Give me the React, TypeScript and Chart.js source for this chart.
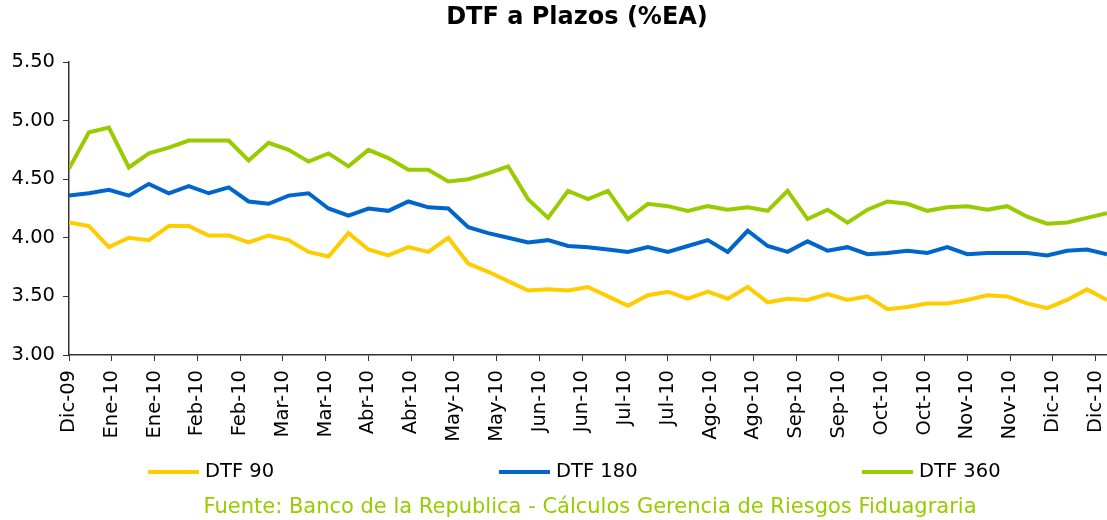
import React, { useEffect, useRef } from "react";
import { Chart, registerables } from "chart.js";

Chart.register(...registerables);

// Weekly observation dates
const dates: string[] = [
  "2009-12-25", "2010-01-01", "2010-01-08", "2010-01-15", "2010-01-22", "2010-01-29",
  "2010-02-05", "2010-02-12", "2010-02-19", "2010-02-26", "2010-03-05", "2010-03-12",
  "2010-03-19", "2010-03-26", "2010-04-02", "2010-04-09", "2010-04-16", "2010-04-23",
  "2010-04-30", "2010-05-07", "2010-05-14", "2010-05-21", "2010-05-28", "2010-06-04",
  "2010-06-11", "2010-06-18", "2010-06-25", "2010-07-02", "2010-07-09", "2010-07-16",
  "2010-07-23", "2010-07-30", "2010-08-06", "2010-08-13", "2010-08-20", "2010-08-27",
  "2010-09-03", "2010-09-10", "2010-09-17", "2010-09-24", "2010-10-01", "2010-10-08",
  "2010-10-15", "2010-10-22", "2010-10-29", "2010-11-05", "2010-11-12", "2010-11-19",
  "2010-11-26", "2010-12-03", "2010-12-10", "2010-12-17", "2010-12-24",
];

const dtf90: number[] = [
  4.13, 4.10, 3.92, 4.00, 3.98, 4.10, 4.10, 4.02, 4.02, 3.96, 4.02, 3.98,
  3.88, 3.84, 4.04, 3.90, 3.85, 3.92, 3.88, 4.00, 3.78, 3.71, 3.63, 3.55,
  3.56, 3.55, 3.58, 3.50, 3.42, 3.51, 3.54, 3.48, 3.54, 3.48, 3.58, 3.45,
  3.48, 3.47, 3.52, 3.47, 3.50, 3.39, 3.41, 3.44, 3.44, 3.47, 3.51, 3.50,
  3.44, 3.40, 3.47, 3.56, 3.47,
];

const dtf180: number[] = [
  4.36, 4.38, 4.41, 4.36, 4.46, 4.38, 4.44, 4.38, 4.43, 4.31, 4.29, 4.36,
  4.38, 4.25, 4.19, 4.25, 4.23, 4.31, 4.26, 4.25, 4.09, 4.04, 4.00, 3.96,
  3.98, 3.93, 3.92, 3.90, 3.88, 3.92, 3.88, 3.93, 3.98, 3.88, 4.06, 3.93,
  3.88, 3.97, 3.89, 3.92, 3.86, 3.87, 3.89, 3.87, 3.92, 3.86, 3.87, 3.87,
  3.87, 3.85, 3.89, 3.90, 3.86,
];

const dtf360: number[] = [
  4.59, 4.90, 4.94, 4.60, 4.72, 4.77, 4.83, 4.83, 4.83, 4.66, 4.81, 4.75,
  4.65, 4.72, 4.61, 4.75, 4.68, 4.58, 4.58, 4.48, 4.50, 4.55, 4.61, 4.33,
  4.17, 4.40, 4.33, 4.40, 4.16, 4.29, 4.27, 4.23, 4.27, 4.24, 4.26, 4.23,
  4.40, 4.16, 4.24, 4.13, 4.24, 4.31, 4.29, 4.23, 4.26, 4.27, 4.24, 4.27,
  4.18, 4.12, 4.13, 4.17, 4.21,
];

const seriesNames: string[] = ["DTF 90", "DTF 180", "DTF 360"];
const seriesColors: string[] = ["#FFCC00", "#0066CC", "#99CC00"];
const monthNames: string[] = ["Ene", "Feb", "Mar", "Abr", "May", "Jun", "Jul", "Ago", "Sep", "Oct", "Nov", "Dic"];
const titleText = "DTF a Plazos (%EA)";
const sourceText = "Fuente: Banco de la Republica - Cálculos Gerencia de Riesgos Fiduagraria";

const FONT = "'DejaVu Sans', Verdana, sans-serif";
const DAY = 86400000;
const t0 = Date.parse(dates[0]);
const dayOffset = (s: string) => Math.round((Date.parse(s) - t0) / DAY);

export default function App() {
  const canvasRef = useRef<HTMLCanvasElement | null>(null);

  useEffect(() => {
    document.body.style.margin = "0";
    document.body.style.overflow = "hidden";
    const canvas = canvasRef.current;
    if (!canvas) return;

    const toPoints = (vals: number[]) => vals.map((v, i) => ({ x: dayOffset(dates[i]), y: v }));
    const seriesValues = [dtf90, dtf180, dtf360];

    const overlay = {
      id: "overlayText",
      afterDraw(chart: any) {
        const ctx = chart.ctx as CanvasRenderingContext2D;
        ctx.save();
        // title
        ctx.fillStyle = "#000";
        ctx.font = `bold 24px ${FONT}`;
        ctx.textAlign = "center";
        ctx.textBaseline = "middle";
        ctx.fillText(titleText, 577, 18);
        // legend
        const legendX = [148, 499, 862];
        const legendY = 472;
        chart.data.datasets.forEach((ds: any, i: number) => {
          ctx.strokeStyle = ds.borderColor;
          ctx.lineWidth = 4;
          ctx.beginPath();
          ctx.moveTo(legendX[i], legendY);
          ctx.lineTo(legendX[i] + 51, legendY);
          ctx.stroke();
          ctx.fillStyle = "#000";
          ctx.font = `19.5px ${FONT}`;
          ctx.textAlign = "left";
          ctx.textBaseline = "middle";
          ctx.fillText(ds.label, legendX[i] + 57, legendY);
        });
        // source
        ctx.fillStyle = "#99CC00";
        ctx.font = `21px ${FONT}`;
        ctx.textAlign = "center";
        ctx.textBaseline = "middle";
        ctx.fillText(sourceText, 590, 508);
        ctx.restore();
      },
    };

    const chart = new Chart(canvas, {
      type: "line",
      data: {
        datasets: seriesNames.map((name, i) => ({
          label: name,
          data: toPoints(seriesValues[i]),
          borderColor: seriesColors[i],
          backgroundColor: seriesColors[i],
          borderWidth: 4,
          pointRadius: 0,
          tension: 0,
          fill: false,
        })),
      },
      options: {
        animation: false,
        responsive: false,
        devicePixelRatio: 1,
        layout: { padding: { top: 62, left: 0, right: 0, bottom: 0 } },
        plugins: {
          legend: { display: false },
          title: { display: false },
          tooltip: { enabled: false },
        },
        scales: {
          x: {
            type: "linear",
            min: 0,
            max: dayOffset(dates[dates.length - 1]),
            grid: {
              display: true,
              drawOnChartArea: false,
              drawTicks: true,
              tickLength: 6,
              color: "#333",
              lineWidth: 1,
            },
            border: { display: true, color: "#333", width: 1.5 },
            ticks: {
              stepSize: 15,
              includeBounds: false,
              autoSkip: false,
              maxRotation: 90,
              minRotation: 90,
              padding: 9,
              color: "#000",
              font: { family: FONT, size: 19.5 },
              callback: (value: any) => {
                const d = new Date(t0 + Number(value) * DAY);
                return `${monthNames[d.getUTCMonth()]}-${String(d.getUTCFullYear()).slice(2)}`;
              },
            },
            afterFit: (scale: any) => {
              scale.height = 165;
              scale.paddingLeft = 0;
              scale.paddingRight = 0;
            },
          },
          y: {
            min: 3,
            max: 5.5,
            grid: {
              display: true,
              drawOnChartArea: false,
              drawTicks: true,
              tickLength: 6,
              color: "#333",
              lineWidth: 1,
            },
            border: { display: true, color: "#333", width: 1.5 },
            ticks: {
              stepSize: 0.5,
              padding: 8,
              color: "#000",
              font: { family: FONT, size: 19.5 },
              callback: (value: any) => Number(value).toFixed(2),
            },
            afterFit: (scale: any) => {
              scale.width = 69;
            },
          },
        },
      },
      plugins: [overlay],
    });

    return () => chart.destroy();
  }, []);

  return (
    <div style={{ width: 1107, height: 520, position: "relative", background: "#fff" }}>
      <canvas ref={canvasRef} width={1107} height={520} style={{ display: "block" }} />
    </div>
  );
}
